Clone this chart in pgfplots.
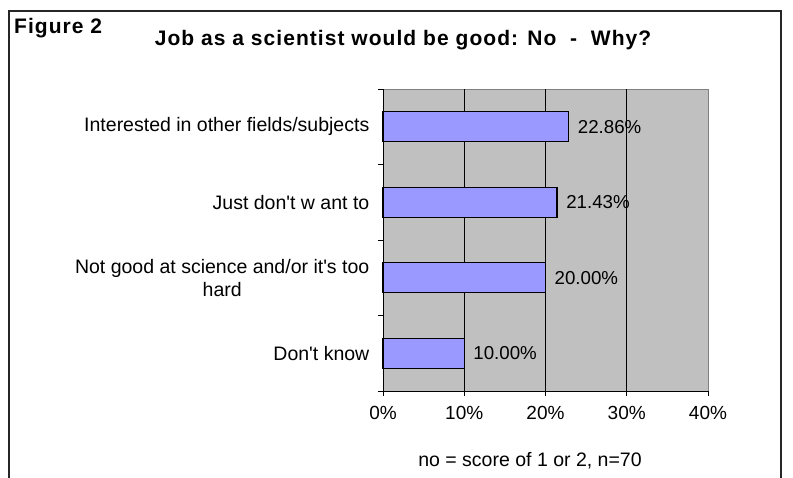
\documentclass[border=0pt]{standalone}
\usepackage{pgfplots}
\pgfplotsset{compat=1.18}
\usepackage{fontspec}
\setmainfont{Liberation Sans}[Ligatures=TeXOff]
\newfontfamily\titlefont{Liberation Sans}[Ligatures=TeXOff, LetterSpace=5]
\definecolor{barblue}{HTML}{9999FF}
\definecolor{plotgray}{HTML}{C0C0C0}
\begin{document}
\fontsize{19.5bp}{23bp}\selectfont
\begin{tikzpicture}
\path[use as bounding box] (0,0) rectangle (793bp,-478bp);
% outer frame, open at the bottom
\draw[line width=1.2bp, black!85] (9bp,-478bp) -- (9bp,-11bp) -- (781bp,-11bp) -- (781bp,-478bp);
\node[anchor=base west, inner sep=0pt, font=\titlefont\bfseries\fontsize{21bp}{24bp}\selectfont] at (14bp,-33bp) {Figure 2};
\node[anchor=base, inner sep=0pt, font=\titlefont\bfseries\fontsize{21bp}{24bp}\selectfont] at (403bp,-45bp) {Job as a scientist would be good: No\ \ -\ \ Why?};

\begin{axis}[
    at={(383bp,-89bp)}, anchor=north west,
    scale only axis,
    width=325bp, height=302bp,
    xbar, bar width=30bp,
    xmin=0, xmax=40,
    ymin=0.5, ymax=4.5,
    axis background/.style={fill=plotgray, draw=black!50},
    axis x line*=bottom, axis y line*=left,
    axis line style={black, line width=1bp},
    xtick={0,10,20,30,40},
    xticklabels={0\%,10\%,20\%,30\%,40\%},
    extra x ticks={10,20,30},
    extra x tick labels={},
    extra x tick style={grid=major},
    major grid style={black, line width=0.9bp},
    xtick align=outside, ytick align=outside,
    major tick length=5bp, minor tick length=5bp,
    tick style={black, line width=0.9bp},
    ytick={1,2,3,4},
    yticklabels={Don't know, {Not good at science and/or it's too\\hard}, Just don't w ant to, Interested in other fields/subjects},
    y tick style={draw=none},
    minor ytick={0.5,1.5,2.5,3.5,4.5},
    minor y tick style={draw=black, line width=0.9bp},
    yticklabel style={align=center, xshift=-2bp, font=\fontsize{19.5bp}{23bp}\selectfont},
    xticklabel style={yshift=-4bp, font=\fontsize{19bp}{23bp}\selectfont},
    /pgf/number format/assume math mode=true,
    nodes near coords={\pgfmathprintnumber[fixed,zerofill,precision=2]{\pgfplotspointmeta}\%},
    nodes near coords align={horizontal},
    every node near coord/.append style={anchor=west, xshift=2bp, font=\fontsize{18.7bp}{22bp}\selectfont},
    point meta=explicit,
    clip=false,
]
\addplot[draw=black, line width=1.3bp, fill=barblue] coordinates {
    (10.00,1) [10.00]
    (20.00,2) [20.00]
    (21.43,3) [21.43]
    (22.86,4) [22.86]
};
\end{axis}
\node[anchor=base] at (530bp,-466bp) {no = score of 1 or 2, n=70};
\end{tikzpicture}
\end{document}
